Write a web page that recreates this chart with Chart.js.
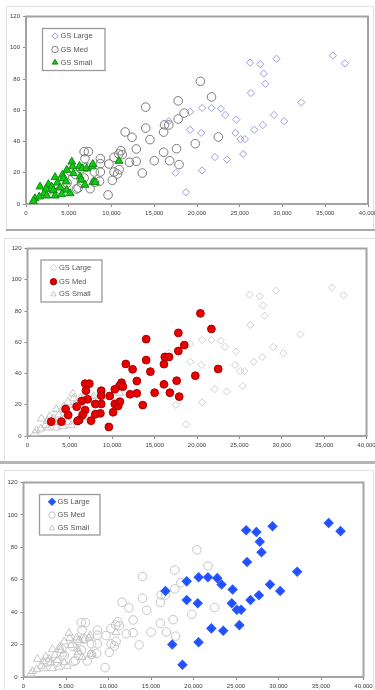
<!DOCTYPE html>
<html lang="en">
<head>
<meta charset="UTF-8">
<title>GS scatter</title>
<script src="https://cdn.jsdelivr.net/npm/chart.js"></script>
<style>
    body {
        margin: 0;
        width: 375px;
        height: 690px;
        overflow: hidden;
        position: relative;
        background: #fff;
    }
    .frame {
        position: absolute;
        border: 1px solid #e2e2e2;
    }
    .sep {
        position: absolute;
        background: #a9a9a9;
    }
    .panel {
        position: absolute;
        left: 0;
        width: 375px;
    }
    canvas { display: block; }
</style>
</head>
<body>
<div class="frame" style="left:6px;top:6px;width:366px;height:222px"></div>
<div class="sep" style="left:6px;top:229px;width:369px;height:2px"></div>
<div class="frame" style="left:4px;top:238px;width:370px;height:222px"></div>
<div class="sep" style="left:0;top:461px;width:375px;height:3px;background:#b5b5b5"></div>
<div class="frame" style="left:4px;top:470px;width:368px;height:222px"></div>

<div class="panel" style="top:0;height:228px"><canvas id="c1"></canvas></div>
<div class="panel" style="top:232px;height:228px"><canvas id="c2"></canvas></div>
<div class="panel" style="top:464px;height:226px"><canvas id="c3"></canvas></div>

<script>
// series names
const seriesNames = ['GS Large', 'GS Med', 'GS Small'];

// GS Large
const xLarge = [35900, 37300, 29300, 26200, 27400, 27800, 28000, 26300, 32200, 19200, 20600,
    21700, 22800, 23300, 24600, 29000, 30200, 27700, 26700, 19200, 20500, 24500, 25100, 25600,
    25400, 22100, 23500, 20600, 18700, 16700, 17500];
const yLarge = [95, 90, 93, 90.5, 89.5, 83.5, 77, 71, 65, 59, 61.5,
    61.5, 61, 57, 54, 57, 53, 50.5, 47.5, 47.5, 45.5, 45.5, 41.5, 41.5,
    32, 30, 28.5, 21.5, 7.5, 53, 20];

// GS Med
const xMed = [20400, 21700, 18500, 17800, 17800, 22500, 19800, 17900, 14000, 14000, 14500,
    16200, 16700, 16100, 17600, 16100, 16800, 15000, 13600, 11600, 12400, 12900, 12900, 12100,
    11100, 10850, 11250, 10300, 9700, 10300, 10700, 10900, 10100, 9600, 8700, 8700, 8700,
    8000, 8600, 8000, 7500, 6800, 7300, 6900, 7100, 6400, 6800, 5800, 6500, 6100,
    5900, 4500, 4800, 4000, 2800];
const yMed = [78.5, 68.5, 58.2, 66, 54.4, 42.9, 38.6, 25.2, 62, 48.6, 41.2,
    50.6, 50.6, 46, 35.4, 33.1, 27.7, 27.7, 19.8, 46.1, 42.7, 35.2, 27.3, 26.7,
    34.1, 32, 31.6, 29.9, 25.6, 20.5, 19.2, 22, 15.2, 5.8, 29, 25.8, 20.5,
    20.5, 14.5, 13.9, 9.8, 33.5, 33.5, 29, 23.5, 22.4, 16.6, 18.8, 13.4, 10.2,
    9.6, 17.3, 13.4, 9.2, 9.2];

// GS Small
const xSmall = [5360, 5430, 6250, 6560, 7100, 7700, 7820, 10870, 4770, 4260, 3400,
    4370, 6330, 6450, 7900, 3670, 4690, 1640, 2620, 3010, 3990, 2340, 3200, 4770,
    5160, 2110, 3400, 4180, 1050, 1560, 860, 2430, 6900, 5550, 8100];
const ySmall = [27, 24, 24.3, 22.8, 22.8, 24, 25.5, 27.5, 21.8, 18.6, 17.1,
    16.4, 17.5, 15.4, 14.3, 13.6, 14.3, 11.1, 12.6, 11.1, 10.4, 9.6, 8.8, 9,
    6.8, 6.8, 5.3, 6.2, 3.6, 4.7, 1.9, 5.3, 12.2, 19.6, 13.9];

// axes
const xMin = 0, xMax = 40000, xStep = 5000;
const yMin = 0, yMax = 120, yStep = 20;

const toPoints = (xs, ys) => xs.map((x, i) => ({ x: x, y: ys[i] }));
const seriesData = [toPoints(xLarge, yLarge), toPoints(xMed, yMed), toPoints(xSmall, ySmall)];

const clear = 'rgba(255,255,255,0)';

const panels = [
    {
        id: 'c1', h: 228, plot: { l: 26, r: 368, t: 16.5, b: 204 }, xH: 14, front: 2,
        legend: { x: 42.5, y: 28.5, w: 62.5, h: 42, rows: [36, 49.5, 62.5], mx: 55, tx: 60.5 },
        styles: [
            { ps: 'rectRot', r: 3.6, bg: clear, bc: '#9c9ce2', bw: 1 },
            { ps: 'circle', r: 4.3, bg: clear, bc: '#7c7c7c', bw: 1 },
            { ps: 'triangle', r: 4.6, bg: '#14c814', bc: '#0b8e0b', bw: 1 }
        ]
    },
    {
        id: 'c2', h: 228, plot: { l: 27.5, r: 366.5, t: 16.5, b: 204 }, xH: 14, front: 1,
        legend: { x: 41, y: 28, w: 61, h: 42, rows: [35.7, 49.7, 62.3], mx: 53.5, tx: 59 },
        styles: [
            { ps: 'rectRot', r: 3.6, bg: clear, bc: '#cfcfcf', bw: 1 },
            { ps: 'circle', r: 3.9, bg: '#e80000', bc: '#a80000', bw: 1 },
            { ps: 'triangle', r: 4.6, bg: clear, bc: '#c6c6c6', bw: 1 }
        ]
    },
    {
        id: 'c3', h: 226, plot: { l: 23.5, r: 363.5, t: 18.5, b: 213 }, xH: 12, front: 0,
        legend: { x: 39.5, y: 30.5, w: 60.5, h: 40.5, rows: [37.7, 51, 64.3], mx: 52, tx: 57.5 },
        styles: [
            { ps: 'rectRot', r: 4.2, bg: '#1f50ff', bc: '#2a58ff', bw: 1.5 },
            { ps: 'circle', r: 4.3, bg: clear, bc: '#c6c6c6', bw: 1 },
            { ps: 'triangle', r: 4.6, bg: clear, bc: '#c8c8c8', bw: 1 }
        ]
    }
];

const plotFrame = {
    id: 'plotFrame',
    beforeDraw(chart) {
        const a = chart.chartArea, ctx = chart.ctx;
        ctx.save();
        ctx.fillStyle = '#fff';
        ctx.fillRect(a.left, a.top, a.right - a.left, a.bottom - a.top);
        ctx.restore();
    },
    beforeDatasetsDraw(chart) {
        const a = chart.chartArea, ctx = chart.ctx;
        ctx.save();
        ctx.strokeStyle = '#a3a3a3';
        ctx.lineWidth = 2;
        ctx.strokeRect(a.left, a.top, a.right - a.left, a.bottom - a.top);
        ctx.restore();
    }
};

const boxLegend = {
    id: 'boxLegend',
    afterDatasetsDraw(chart, args, opts) {
        const ctx = chart.ctx;
        ctx.save();
        ctx.fillStyle = '#fff';
        ctx.fillRect(opts.x, opts.y, opts.w, opts.h);
        ctx.strokeStyle = '#9a9a9a';
        ctx.lineWidth = 1.3;
        ctx.strokeRect(opts.x, opts.y, opts.w, opts.h);
        ctx.font = '7.5px "Liberation Sans", Arial, sans-serif';
        ctx.textBaseline = 'middle';
        chart.data.datasets.forEach((ds, i) => {
            const y = opts.rows[i];
            ctx.fillStyle = ds.backgroundColor;
            ctx.strokeStyle = ds.borderColor;
            ctx.lineWidth = ds.borderWidth;
            Chart.helpers.drawPoint(ctx, {
                pointStyle: ds.pointStyle,
                radius: Math.min(ds.pointRadius, 3.2),
                rotation: 0,
                borderWidth: ds.borderWidth
            }, opts.mx, y);
            ctx.fillStyle = '#555';
            ctx.fillText(ds.label, opts.tx, y);
        });
        ctx.restore();
    }
};

panels.forEach(p => {
    const canvas = document.getElementById(p.id);
    canvas.width = 375;
    canvas.height = p.h;
    canvas.style.width = '375px';
    canvas.style.height = p.h + 'px';

    const datasets = seriesNames.map((name, i) => ({
        label: name,
        data: seriesData[i],
        pointStyle: p.styles[i].ps,
        pointRadius: p.styles[i].r,
        pointHoverRadius: p.styles[i].r,
        backgroundColor: p.styles[i].bg,
        borderColor: p.styles[i].bc,
        borderWidth: p.styles[i].bw,
        order: i === p.front ? 0 : 1 + i
    }));

    const tickFont = { family: '"Liberation Sans", Arial, sans-serif', size: 6 };

    new Chart(canvas, {
        type: 'scatter',
        data: { datasets: datasets },
        options: {
            responsive: false,
            animation: false,
            devicePixelRatio: 1,
            layout: {
                padding: { left: 0, right: 375 - p.plot.r, top: p.plot.t, bottom: p.h - p.plot.b - p.xH }
            },
            plugins: {
                legend: { display: false },
                tooltip: { enabled: false },
                boxLegend: p.legend
            },
            scales: {
                x: {
                    type: 'linear',
                    min: xMin,
                    max: xMax,
                    ticks: {
                        stepSize: xStep,
                        color: '#3a3a3a',
                        font: tickFont,
                        padding: 3,
                        maxRotation: 0,
                        callback: v => v.toLocaleString('en-US')
                    },
                    grid: { drawOnChartArea: false, tickLength: 3, color: '#8a8a8a' },
                    border: { display: false },
                    afterFit: s => { s.height = p.xH; s.paddingLeft = 0; s.paddingRight = 0; }
                },
                y: {
                    min: yMin,
                    max: yMax,
                    ticks: {
                        stepSize: yStep,
                        color: '#3a3a3a',
                        font: tickFont,
                        padding: 3
                    },
                    grid: { drawOnChartArea: false, tickLength: 3, color: '#8a8a8a' },
                    border: { display: false },
                    afterFit: s => { s.width = p.plot.l; s.paddingTop = 0; s.paddingBottom = 0; }
                }
            }
        },
        plugins: [plotFrame, boxLegend]
    });
});
</script>
</body>
</html>
